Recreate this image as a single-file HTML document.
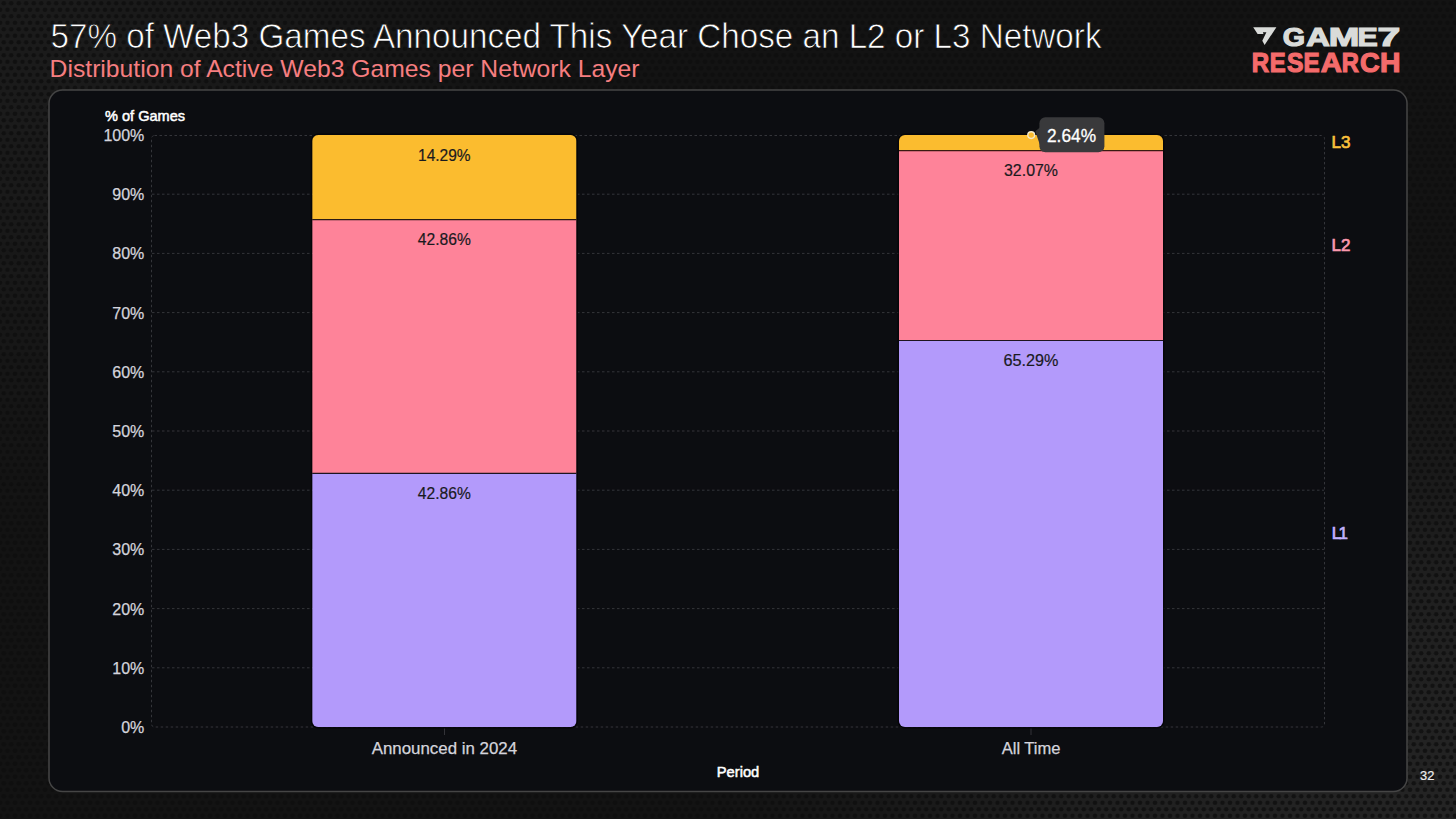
<!DOCTYPE html>
<html><head><meta charset="utf-8">
<style>
html,body{margin:0;padding:0;width:1456px;height:819px;overflow:hidden;background:#161616;}
svg{display:block;}
text{font-family:"Liberation Sans",sans-serif;}
</style></head>
<body>
<svg width="1456" height="819" viewBox="0 0 1456 819">
<defs>
  <pattern id="dots" width="7.5" height="13" patternUnits="userSpaceOnUse">
    <rect width="7.5" height="13" fill="#252525"/>
    <circle cx="3.75" cy="3.25" r="2.3" fill="#131313"/>
    <circle cx="0" cy="9.75" r="2.3" fill="#131313"/>
    <circle cx="7.5" cy="9.75" r="2.3" fill="#131313"/>
  </pattern>
  <radialGradient id="spotG" cx="0.5" cy="0.5" r="0.5">
    <stop offset="0" stop-color="#000" stop-opacity="1"/>
    <stop offset="0.45" stop-color="#000" stop-opacity="0.75"/>
    <stop offset="1" stop-color="#000" stop-opacity="0"/>
  </radialGradient>
  <radialGradient id="spotG2" cx="0.5" cy="0.5" r="0.5">
    <stop offset="0" stop-color="#000" stop-opacity="0.5"/>
    <stop offset="0.5" stop-color="#000" stop-opacity="0.3"/>
    <stop offset="1" stop-color="#000" stop-opacity="0"/>
  </radialGradient>
  <mask id="darkMask" maskUnits="userSpaceOnUse" x="0" y="0" width="1456" height="819">
    <rect width="1456" height="819" fill="#fff"/>
    <ellipse cx="40" cy="60" rx="520" ry="460" fill="url(#spotG2)"/>
    <ellipse cx="1456" cy="830" rx="760" ry="520" fill="url(#spotG)"/>
  </mask>
</defs>
<!-- page background -->
<rect width="1456" height="819" fill="url(#dots)"/>
<rect width="1456" height="819" fill="#0e0e0e" opacity="0.78" mask="url(#darkMask)"/>

<!-- title -->
<text x="50.5" y="47.8" font-size="34.5" fill="#ffffff" stroke="#111111" stroke-width="0.75" textLength="1051" lengthAdjust="spacingAndGlyphs">57% of Web3 Games Announced This Year Chose an L2 or L3 Network</text>
<text x="49.6" y="77" font-size="24" fill="#f67e80" textLength="590"  lengthAdjust="spacingAndGlyphs">Distribution of Active Web3 Games per Network Layer</text>

<!-- logo -->
<g id="logo">
  <polygon points="1253.2,27.2 1276.4,27.2 1264.6,45.1 1262.3,40.7 1266.4,32.2 1262.9,32.2 1263.5,34 1257.6,34" fill="#d9dbd9"/>
  <g font-size="25.5" font-weight="bold" fill="#d9dbd9" stroke="#d9dbd9" stroke-width="1.2" stroke-linejoin="miter">
    <text x="1282.89" y="45.5" textLength="22.3" lengthAdjust="spacingAndGlyphs">G</text>
    <text x="1306.26" y="45.5" textLength="23.59" lengthAdjust="spacingAndGlyphs">A</text>
    <text x="1328.75" y="45.5" textLength="30.6" lengthAdjust="spacingAndGlyphs">M</text>
    <text x="1357.58" y="45.5" textLength="20.24" lengthAdjust="spacingAndGlyphs">E</text>
    <text x="1377.48" y="45.5" textLength="22.74" lengthAdjust="spacingAndGlyphs">7</text>
  </g>
  <g font-size="28" font-weight="bold" fill="#f46b6b" stroke="#f46b6b" stroke-width="1.2">
    <text x="1251.74" y="72.3" textLength="17.39" lengthAdjust="spacingAndGlyphs">R</text>
    <text x="1269.8" y="72.3" textLength="15.95" lengthAdjust="spacingAndGlyphs">E</text>
    <text x="1286.94" y="72.3" textLength="16.44" lengthAdjust="spacingAndGlyphs">S</text>
    <text x="1303.58" y="72.3" textLength="16.19" lengthAdjust="spacingAndGlyphs">E</text>
    <text x="1320.85" y="72.3" textLength="21.2" lengthAdjust="spacingAndGlyphs">A</text>
    <text x="1341.76" y="72.3" textLength="17.16" lengthAdjust="spacingAndGlyphs">R</text>
    <text x="1360.12" y="72.3" textLength="19.67" lengthAdjust="spacingAndGlyphs">C</text>
    <text x="1380.06" y="72.3" textLength="20.49" lengthAdjust="spacingAndGlyphs">H</text>
  </g>
</g>

<!-- card -->
<rect x="49" y="90" width="1358" height="701.5" rx="13.5" ry="13.5" fill="#0c0d11" stroke="#454545" stroke-width="1.5"/>

<!-- grid -->
<g stroke="#34353a" stroke-width="1" stroke-dasharray="2.5 2.5" fill="none">
  <line x1="152" y1="194.2" x2="1324" y2="194.2"/>
  <line x1="152" y1="253.4" x2="1324" y2="253.4"/>
  <line x1="152" y1="312.6" x2="1324" y2="312.6"/>
  <line x1="152" y1="371.8" x2="1324" y2="371.8"/>
  <line x1="152" y1="431" x2="1324" y2="431"/>
  <line x1="152" y1="490.2" x2="1324" y2="490.2"/>
  <line x1="152" y1="549.4" x2="1324" y2="549.4"/>
  <line x1="152" y1="608.6" x2="1324" y2="608.6"/>
  <line x1="152" y1="667.8" x2="1324" y2="667.8"/>
  <rect x="151.5" y="135.5" width="1173" height="591.5" rx="3" ry="3"/>
</g>
<line x1="444.5" y1="728" x2="444.5" y2="735" stroke="#333338" stroke-width="1"/>
<line x1="1031" y1="728" x2="1031" y2="735" stroke="#333338" stroke-width="1"/>

<!-- y axis labels -->
<g font-size="16" fill="#d4d4dc" stroke="#d4d4dc" stroke-width="0.25" text-anchor="end">
  <text x="144.3" y="141">100%</text>
  <text x="144.3" y="200.2">90%</text>
  <text x="144.3" y="259.4">80%</text>
  <text x="144.3" y="318.6">70%</text>
  <text x="144.3" y="377.8">60%</text>
  <text x="144.3" y="437">50%</text>
  <text x="144.3" y="496.2">40%</text>
  <text x="144.3" y="555.4">30%</text>
  <text x="144.3" y="614.6">20%</text>
  <text x="144.3" y="673.8">10%</text>
  <text x="144.3" y="733">0%</text>
</g>
<text x="105" y="120.7" font-size="14.5" fill="#ffffff" stroke="#ffffff" stroke-width="0.5" textLength="80" lengthAdjust="spacingAndGlyphs">% of Games</text>

<!-- bars -->
<rect x="311.4" y="134.2" width="265.9" height="593.6" rx="6.8" ry="6.8" fill="none" stroke="#050508" stroke-width="1.2"/>
<rect x="898.2" y="134.2" width="265.6" height="593.6" rx="6.8" ry="6.8" fill="none" stroke="#050508" stroke-width="1.2"/>
<clipPath id="b1"><rect x="312.2" y="135" width="264.3" height="592" rx="6" ry="6"/></clipPath>
<clipPath id="b2"><rect x="899" y="135" width="264" height="592" rx="6" ry="6"/></clipPath>
<g clip-path="url(#b1)">
  <rect x="312.2" y="135" width="264.3" height="84.6" fill="#fbbc2f"/>
  <rect x="312.2" y="219.6" width="264.3" height="253.7" fill="#fe8399"/>
  <rect x="312.2" y="473.3" width="264.3" height="253.7" fill="#b39afb"/>
  <line x1="312" y1="219.6" x2="577" y2="219.6" stroke="#2a1a14" stroke-width="1.2"/>
  <line x1="312" y1="473.3" x2="577" y2="473.3" stroke="#1e1420" stroke-width="1.2"/>
</g>
<g clip-path="url(#b2)">
  <rect x="899" y="135" width="264" height="15.6" fill="#fbbc2f"/>
  <rect x="899" y="150.6" width="264" height="189.9" fill="#fe8399"/>
  <rect x="899" y="340.5" width="264" height="386.5" fill="#b39afb"/>
  <line x1="898" y1="150.6" x2="1164" y2="150.6" stroke="#3a1a10" stroke-width="1.2"/>
  <line x1="898" y1="340.5" x2="1164" y2="340.5" stroke="#1e1420" stroke-width="1.2"/>
</g>

<!-- bar labels -->
<g font-size="16" fill="#1a1a1e" stroke="#1a1a1e" stroke-width="0.2" text-anchor="middle">
  <text x="444.3" y="160.8" textLength="52.5" lengthAdjust="spacingAndGlyphs">14.29%</text>
  <text x="444.3" y="244.8" textLength="53" lengthAdjust="spacingAndGlyphs">42.86%</text>
  <text x="444.3" y="498.5" textLength="53" lengthAdjust="spacingAndGlyphs">42.86%</text>
  <text x="1031" y="176.3" textLength="54" lengthAdjust="spacingAndGlyphs">32.07%</text>
  <text x="1031" y="366.3" textLength="55" lengthAdjust="spacingAndGlyphs">65.29%</text>
</g>

<!-- tooltip -->
<circle cx="1031.2" cy="135.1" r="3.4" fill="#fbbc2f" stroke="#f3e8c8" stroke-width="1.4"/>
<path d="M1040.5,127 L1035.3,131.3 L1042.5,152.4 Z" fill="#343436"/>
<rect x="1039.4" y="117.3" width="65" height="35" rx="6" ry="6" fill="#39393b"/>
<text x="1071.5" y="141.8" font-size="17.5" fill="#ffffff" stroke="#ffffff" stroke-width="0.3" text-anchor="middle" textLength="49" lengthAdjust="spacingAndGlyphs">2.64%</text>

<!-- category labels -->
<g font-size="16" fill="#d4d4dc" stroke="#d4d4dc" stroke-width="0.25" text-anchor="middle">
  <text x="444.4" y="753.6" textLength="145.3" lengthAdjust="spacingAndGlyphs">Announced in 2024</text>
  <text x="1031.1" y="753.6" textLength="58.8" lengthAdjust="spacingAndGlyphs">All Time</text>
</g>
<text x="738" y="777" font-size="14.5" fill="#ffffff" stroke="#ffffff" stroke-width="0.5" text-anchor="middle" textLength="42.5" lengthAdjust="spacingAndGlyphs">Period</text>

<!-- legend -->
<g font-size="17" fill-opacity="1">
  <text x="1331.5 1341" y="148" fill="#fbc13c" stroke="#fbc13c" stroke-width="0.7">L3</text>
  <text x="1331.5 1341" y="250.6" fill="#fb98ae" stroke="#fb98ae" stroke-width="0.7">L2</text>
  <text x="1331.7 1338.5" y="538.8" fill="#c1b0fd" stroke="#c1b0fd" stroke-width="0.7">L1</text>
</g>

<!-- page number -->
<text x="1420" y="779.8" font-size="13" fill="#f0f0f0" stroke="#f0f0f0" stroke-width="0.2" textLength="14.3" lengthAdjust="spacingAndGlyphs">32</text>
</svg>
</body></html>
